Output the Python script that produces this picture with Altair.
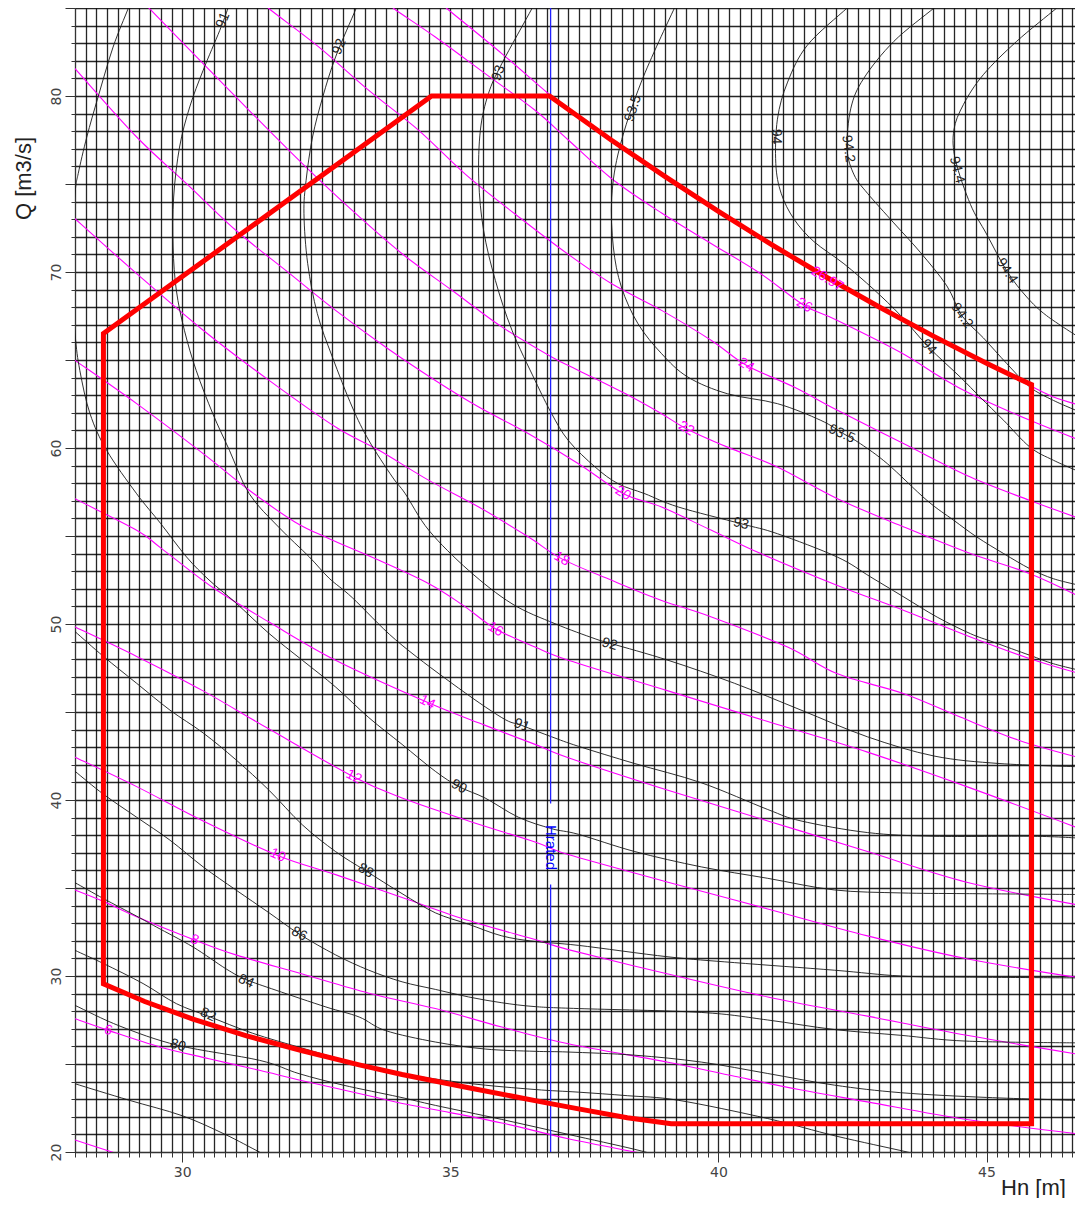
import altair as alt
import pandas as pd

# ---------------- axes / domains ----------------
X_DOMAIN = [28.0, 46.65]
Q_DOMAIN = [20.0, 85.0]
X_GRID = [round(28.0 + 0.2 * i, 1) for i in range(94)]
Q_GRID = list(range(20, 86))
H_RATED = 36.87

# ---------------- efficiency contours (Hn [m], Q [m3/s]) ----------------
ETA_78 = [(27.8, 24.1), (28.0, 23.88), (29.0, 22.95), (30.0, 22.06), (30.8, 21.0), (31.44, 20.0), (31.8, 19.5)]
ETA_80 = [(27.8, 28.6), (28.0, 28.33), (28.84, 27.15), (29.92, 26.06), (31.44, 25.21), (32.18, 24.45), (33.0, 23.8),
          (34.04, 23.13), (34.72, 22.65), (35.96, 21.85), (37.2, 21.0), (38.44, 20.15), (39.1, 19.6)]
ETA_82 = [(27.8, 31.8), (28.0, 31.46), (28.53, 30.71), (29.27, 29.57), (29.89, 28.43), (30.5, 27.7), (31.31, 26.75),
          (32.24, 25.9), (33.17, 25.1), (34.1, 24.45), (35.34, 23.9), (36.58, 23.55), (37.39, 23.4), (38.3, 23.2),
          (39.25, 22.94), (40.92, 21.9), (42.2, 20.9), (43.52, 20.0), (44.2, 19.5)]
ETA_84 = [(27.8, 35.6), (28.0, 35.3), (28.53, 34.4), (29.15, 33.4), (29.52, 32.78), (30.2, 31.65), (30.82, 30.4),
          (31.19, 29.8), (31.75, 29.19), (32.68, 28.24), (33.3, 27.67), (33.79, 26.9), (34.72, 26.25), (35.65, 25.85),
          (36.58, 25.72), (37.2, 25.68), (38.44, 25.5), (39.68, 25.11), (40.92, 24.46), (42.16, 23.8), (43.4, 23.37),
          (45.0, 23.1), (46.74, 22.93)]
ETA_86 = [(27.8, 42.1), (28.0, 41.63), (28.53, 40.33), (29.15, 39.02), (29.77, 37.72), (30.39, 36.2), (31.0, 34.89),
          (31.62, 33.59), (32.18, 32.39), (32.86, 31.2), (33.48, 30.33), (34.1, 29.67), (34.72, 29.24), (35.34, 28.81),
          (35.96, 28.48), (36.58, 28.26), (37.39, 28.15), (39.68, 27.93), (40.92, 27.5), (42.16, 26.96), (43.4, 26.63),
          (44.63, 26.3), (46.74, 26.2)]
ETA_88 = [(27.8, 50.1), (28.0, 49.57), (28.53, 48.16), (29.15, 46.63), (29.77, 45.11), (30.39, 43.81), (31.0, 42.29),
          (31.62, 40.55), (32.24, 38.59), (32.86, 37.07), (33.42, 35.98), (34.1, 34.68), (34.72, 33.59), (35.34, 32.94),
          (35.96, 32.28), (36.58, 31.96), (37.39, 31.74), (39.06, 31.09), (40.3, 30.76), (42.16, 30.33), (43.4, 30.0),
          (44.63, 29.94), (46.74, 29.89)]
ETA_90 = [(29.05, 85.5), (28.99, 84.96), (28.71, 82.78), (28.43, 79.94), (28.22, 77.67), (28.06, 75.59), (28.0, 74.45),
          (27.9, 70.5), (28.0, 66.5), (28.09, 64.41), (28.28, 61.95), (28.59, 59.87), (29.15, 57.4), (29.6, 55.7),
          (30.08, 53.81), (30.5, 52.5), (31.0, 51.2), (31.62, 49.46), (32.24, 47.94), (32.86, 46.42), (33.48, 44.68),
          (34.1, 43.16), (34.72, 41.63), (35.16, 40.76), (35.65, 40.11), (36.27, 39.02), (36.89, 38.37), (37.39, 38.05),
          (38.44, 37.07), (39.68, 36.2), (40.92, 35.55), (42.16, 34.89), (43.4, 34.72), (44.63, 34.68), (46.74, 34.63)]
ETA_91 = [(30.9, 85.5), (30.85, 84.96), (30.7, 83.73), (30.39, 81.46), (30.14, 79.38), (29.95, 77.1), (29.84, 74.26),
          (29.83, 71.42), (29.89, 68.96), (30.04, 66.69), (30.26, 64.41), (30.57, 61.95), (30.88, 59.87), (31.25, 57.4),
          (31.8, 55.5), (32.37, 53.81), (32.74, 52.6), (33.17, 51.5), (33.98, 49.1), (35.03, 46.63), (35.96, 44.68),
          (36.33, 44.24), (36.89, 43.59), (37.39, 43.05), (38.44, 42.07), (39.68, 40.98), (40.92, 39.46), (41.54, 38.81),
          (42.78, 38.15), (44.02, 37.94), (45.87, 37.94), (46.74, 37.83)]
ETA_92 = [(33.3, 85.5), (33.24, 84.96), (32.86, 82.22), (32.62, 79.94), (32.43, 77.67), (32.31, 75.21), (32.27, 73.31),
          (32.34, 70.47), (32.52, 67.63), (32.8, 65.17), (33.17, 62.33), (33.48, 60.43), (33.92, 58.35), (34.16, 57.4),
          (34.6, 55.32), (35.34, 53.05), (36.15, 51.15), (36.95, 50.02), (37.7, 49.16), (38.01, 48.88), (39.06, 47.94),
          (40.3, 46.63), (41.54, 45.11), (42.78, 43.59), (44.02, 42.5), (45.25, 42.07), (46.74, 41.89)]
ETA_93 = [(36.6, 85.5), (36.52, 84.96), (35.96, 81.84), (35.71, 80.13), (35.56, 78.05), (35.53, 75.21), (35.62, 72.37),
          (35.84, 69.52), (36.15, 66.69), (36.58, 63.84), (36.89, 61.95), (37.2, 60.43), (37.7, 58.92), (38.13, 57.97),
          (38.63, 57.4), (39.25, 56.65), (40.42, 55.7), (41.1, 55.13), (42.22, 53.8), (42.84, 52.67), (43.46, 51.53),
          (44.08, 50.39), (44.7, 49.45), (45.13, 48.97), (45.81, 48.22), (46.25, 47.74), (46.75, 47.36)]
ETA_935 = [(39.28, 85.5), (39.18, 85.0), (38.56, 80.79), (38.16, 77.1), (38.01, 74.26), (38.04, 71.42), (38.19, 69.15),
           (38.5, 67.06), (38.94, 65.36), (39.43, 64.03), (40.17, 63.08), (41.1, 62.52), (41.91, 61.57), (42.34, 60.8),
           (42.65, 60.24), (43.15, 59.11), (43.89, 57.02), (44.39, 55.89), (44.82, 54.94), (45.32, 54.0),
           (45.81, 53.14), (46.25, 52.57), (46.75, 52.19)]
ETA_94 = [(42.58, 85.5), (42.4, 85.0), (41.66, 82.89), (41.29, 80.79), (41.1, 78.68), (41.07, 76.16), (41.17, 74.47),
          (41.41, 73.0), (41.78, 71.73), (42.34, 70.47), (42.9, 69.0), (43.4, 67.52), (43.92, 65.73), (44.51, 64.03),
          (44.88, 62.89), (45.32, 61.57), (45.81, 60.05), (46.25, 59.3), (46.75, 58.63)]
ETA_942 = [(44.2, 85.5), (44.02, 85.0), (43.27, 83.1), (42.71, 81.0), (42.47, 79.31), (42.4, 77.0), (42.53, 75.52),
           (42.78, 74.47), (43.27, 72.79), (43.77, 71.1), (44.26, 69.21), (44.54, 67.52), (44.94, 66.26), (45.38, 64.79),
           (45.81, 63.46), (46.25, 62.7), (46.75, 62.04)]
ETA_944 = [(46.5, 85.5), (46.31, 85.0), (45.56, 83.1), (44.94, 81.21), (44.57, 79.52), (44.39, 78.05), (44.42, 76.37),
           (44.7, 73.84), (45.0, 72.16), (45.38, 70.05), (45.75, 68.58), (46.12, 67.52), (46.74, 66.26)]

# ---------------- power contours [MW] ----------------
P_4 = [(27.8, 20.9), (28.0, 20.68), (28.69, 20.0), (29.2, 19.5)]
P_6 = [(27.8, 27.75), (28.0, 27.57), (28.62, 26.91), (29.58, 25.97), (30.5, 25.3), (31.44, 24.64), (32.24, 24.05),
       (33.48, 23.2), (34.04, 22.8), (34.72, 22.4), (35.96, 21.65), (37.2, 20.75), (38.44, 20.0), (39.3, 19.5)]
P_8 = [(27.8, 35.1), (28.0, 34.89), (28.53, 34.24), (29.15, 33.37), (30.23, 32.05), (31.0, 31.2), (32.24, 30.11),
       (33.48, 29.02), (34.72, 28.15), (35.96, 27.1), (37.2, 26.15), (39.06, 25.1), (40.3, 24.3), (41.5, 23.55),
       (42.78, 22.85), (44.63, 21.85), (46.74, 21.02)]
P_10 = [(27.8, 42.7), (28.03, 42.39), (29.15, 40.76), (30.39, 38.81), (31.78, 36.85), (32.86, 35.76), (34.1, 34.46),
        (35.34, 33.15), (36.58, 32.07), (37.2, 31.5), (39.06, 30.11), (40.92, 28.81), (42.78, 27.72), (44.63, 26.63),
        (46.74, 25.54)]
P_12 = [(27.8, 50.1), (28.03, 49.79), (29.15, 48.16), (30.39, 46.2), (31.62, 44.03), (33.2, 41.31), (34.1, 40.11),
        (35.34, 38.81), (36.58, 37.61), (37.2, 36.9), (39.06, 35.33), (40.92, 33.81), (42.78, 32.28), (44.63, 30.98),
        (46.74, 29.89)]
P_14 = [(27.8, 57.5), (28.0, 57.12), (29.15, 55.33), (29.61, 54.3), (30.57, 52.07), (31.62, 50.11), (32.86, 47.94),
        (34.57, 45.55), (35.65, 44.24), (36.58, 43.16), (37.2, 42.4), (39.06, 40.55), (40.92, 38.81), (42.78, 37.07),
        (44.63, 35.33), (46.74, 34.02)]
P_16 = [(27.8, 65.4), (28.0, 64.98), (29.15, 62.52), (30.39, 59.68), (31.25, 57.6), (32.1, 55.8), (32.74, 54.85),
        (33.67, 53.62), (34.6, 52.29), (35.22, 51.1), (35.84, 49.73), (36.58, 48.69), (37.2, 47.94), (39.06, 46.2),
        (40.92, 44.46), (42.78, 42.72), (44.63, 40.76), (46.74, 38.37)]
P_18 = [(27.8, 73.6), (28.0, 73.03), (29.15, 69.91), (30.39, 66.69), (31.62, 63.84), (32.86, 61.19), (33.67, 59.87),
        (34.6, 58.16), (35.53, 56.65), (36.46, 54.94), (37.08, 53.7), (38.01, 52.48), (38.94, 51.34), (39.87, 50.4),
        (41.29, 48.69), (42.22, 47.17), (43.46, 46.04), (44.51, 44.71), (45.6, 43.4), (46.74, 42.4)]
P_20 = [(27.8, 82.2), (28.0, 81.55), (29.15, 77.67), (30.08, 75.02), (31.0, 72.37), (31.93, 70.09), (32.86, 67.82),
        (33.79, 65.74), (34.72, 63.84), (35.53, 62.33), (36.46, 60.81), (37.39, 59.11), (38.22, 57.42), (38.94, 56.65),
        (39.87, 55.32), (40.79, 54.0), (42.22, 52.19), (43.46, 50.77), (44.7, 49.26), (45.81, 48.03), (46.75, 47.17)]
P_22 = [(29.2, 85.6), (29.39, 84.96), (30.39, 81.84), (31.31, 78.99), (32.24, 76.16), (33.17, 73.5), (34.1, 71.04),
        (35.03, 68.96), (35.96, 66.88), (36.89, 65.17), (37.39, 64.41), (38.32, 63.0), (38.94, 61.95), (39.4, 61.1),
        (40.17, 60.05), (41.1, 58.92), (42.22, 57.12), (43.46, 55.51), (44.7, 54.0), (45.81, 52.86), (46.75, 51.53)]
P_24 = [(31.4, 85.6), (31.62, 84.96), (32.55, 82.78), (33.48, 80.32), (34.41, 78.05), (35.3, 75.5), (36.2, 73.31),
        (37.2, 71.0), (38.01, 69.33), (38.94, 67.82), (39.87, 66.11), (40.52, 64.7), (41.41, 63.46), (42.22, 62.14),
        (43.46, 60.24), (44.7, 58.35), (45.81, 57.02), (46.75, 55.98)]
P_26 = [(33.7, 85.6), (33.95, 84.96), (34.72, 83.35), (35.65, 81.27), (36.58, 79.19), (37.2, 77.5), (38.01, 75.3),
        (38.94, 73.35), (39.87, 71.61), (40.79, 69.9), (41.6, 68.1), (42.22, 67.25), (43.4, 65.43), (44.14, 64.03),
        (44.7, 63.08), (45.81, 61.57), (46.75, 60.43)]
P_2697 = [(34.7, 85.6), (34.94, 84.96), (35.96, 82.41), (36.83, 80.13), (37.4, 78.75), (38.0, 77.43), (39.0, 75.36),
          (40.0, 73.37), (41.0, 71.47), (42.0, 69.66), (43.0, 67.94), (44.0, 66.3), (45.0, 64.75), (45.5, 64.0),
          (45.84, 63.5), (46.25, 62.9), (46.75, 62.42)]

# ---------------- operating envelope ----------------
ENVELOPE = [(28.53, 48.0), (28.53, 66.5), (34.65, 80.0), (36.85, 80.0), (38.0, 77.5), (39.0, 75.43),
            (40.0, 73.44), (41.0, 71.54), (42.0, 69.73), (43.0, 68.01), (44.0, 66.37), (45.0, 64.82),
            (45.5, 64.08), (45.84, 63.6), (45.84, 21.61), (39.12, 21.61), (38.3, 21.95), (37.39, 22.45),
            (36.87, 22.75), (35.34, 23.65), (34.1, 24.4), (33.3, 24.95), (32.24, 25.75), (31.2, 26.6), (30.2, 27.55),
            (29.3, 28.55), (28.53, 29.56), (28.53, 48.0)]

BLUE_SEGMENTS = {"low": [(H_RATED, 19.0), (H_RATED, 35.2)], "high": [(H_RATED, 39.8), (H_RATED, 86.0)]}

# ---------------- labels (text, Hn, Q, angle) ----------------
EFF_LABELS = [("91", 30.76, 84.3, 292), ("92", 32.93, 82.8, 293), ("93", 35.9, 81.3, 290), ("93.5", 38.41, 79.3, 288),
              ("94", 41.07, 77.7, 90), ("94.2", 42.42, 77.0, 82), ("94.4", 44.45, 75.8, 76),
              ("94.4", 45.38, 70.06, 57), ("94.2", 44.54, 67.52, 55), ("94", 43.92, 65.73, 48),
              ("93.5", 42.3, 60.8, 24), ("93", 40.42, 55.7, 14), ("92", 37.97, 48.85, 16), ("91", 36.33, 44.24, 21),
              ("90", 35.16, 40.76, 28), ("88", 33.42, 35.98, 30), ("86", 32.18, 32.39, 28), ("84", 31.19, 29.7, 24),
              ("82", 30.48, 27.8, 26), ("80", 29.92, 26.06, 17)]
POW_LABELS = [("6", 28.62, 26.91, 18), ("8", 30.23, 32.05, 22), ("10", 31.78, 36.85, 25), ("12", 33.2, 41.31, 28),
              ("14", 34.57, 45.55, 27), ("16", 35.84, 49.7, 31), ("18", 37.08, 53.7, 30), ("20", 38.22, 57.42, 31),
              ("22", 39.4, 61.1, 31), ("24", 40.52, 64.7, 30), ("26", 41.6, 68.1, 31), ("26.97", 42.03, 69.6, 31)]
RATED_LABEL = [("Hrated", H_RATED, 37.3, 90)]

EFF_LINES = {"78": ETA_78, "80": ETA_80, "82": ETA_82, "84": ETA_84, "86": ETA_86, "88": ETA_88, "90": ETA_90,
             "91": ETA_91, "92": ETA_92, "93": ETA_93, "93.5": ETA_935, "94": ETA_94, "94.2": ETA_942,
             "94.4": ETA_944}
POW_LINES = {"4": P_4, "6": P_6, "8": P_8, "10": P_10, "12": P_12, "14": P_14, "16": P_16, "18": P_18,
             "20": P_20, "22": P_22, "24": P_24, "26": P_26, "26.97": P_2697}


def line_rows(lines):
    out = []
    for name, pts in lines.items():
        for i, (x, q) in enumerate(pts):
            out.append({"line": name, "i": i, "x": x, "q": q})
    return pd.DataFrame(out)


def label_rows(labels):
    return pd.DataFrame([{"t": t, "x": x, "q": q, "a": a} for t, x, q, a in labels])


eff_df = line_rows(EFF_LINES)
pow_df = line_rows(POW_LINES)
env_df = line_rows({"env": ENVELOPE})
blue_df = line_rows(BLUE_SEGMENTS)

x_axis = alt.Axis(
    values=X_GRID, grid=True, gridColor="#000000", gridWidth=1.3, gridOpacity=0.85,
    tickSize={"condition": {"test": "abs(datum.value % 5) < 0.01", "value": 10}, "value": 5},
    tickColor="#333333", tickWidth=1, domainColor="#333333",
    labelExpr="abs(datum.value % 5) < 0.01 ? format(datum.value, 'd') : ''",
    labelFont="DejaVu Sans", labelFontSize=14, labelColor="#444444", labelPadding=3,
    labelOverlap=False, labelFlush=False,
    title="Hn [m]", titleFont="Liberation Sans", titleFontSize=22, titleFontWeight="normal",
    titleColor="#222222", titleX=958, titleY=42, titleAlign="center", titleBaseline="alphabetic",
)
y_axis = alt.Axis(
    values=Q_GRID, grid=True, gridColor="#000000", gridWidth=1.3, gridOpacity=0.85,
    tickSize={"condition": {"test": "datum.value % 5 == 0", "value": 10}, "value": 4},
    tickColor="#333333", tickWidth=1, domainColor="#333333",
    labelExpr="(datum.value % 10 == 0 && datum.value <= 80) ? datum.label : ''",
    labelFont="DejaVu Sans", labelFontSize=14, labelColor="#444444", labelPadding=5,
    labelAngle=270, labelAlign="center", labelBaseline="alphabetic",
    labelOverlap=False, labelFlush=False,
    title="Q [m3/s]", titleFont="Liberation Sans", titleFontSize=22, titleFontWeight="normal",
    titleColor="#222222", titleAngle=270, titleX=-52, titleY=170, titleAlign="center", titleBaseline="middle",
)
xs = alt.Scale(domain=X_DOMAIN, nice=False, zero=False)
ys = alt.Scale(domain=Q_DOMAIN, nice=False, zero=False)
X = alt.X("x:Q", scale=xs, axis=x_axis)
Y = alt.Y("q:Q", scale=ys, axis=y_axis)

pow_layer = alt.Chart(pow_df).mark_line(color="#ff00ff", strokeWidth=1.1, interpolate="cardinal", clip=True).encode(
    x=X, y=Y, detail="line:N", order="i:Q")
eff_layer = alt.Chart(eff_df).mark_line(color="#1a1a1a", strokeWidth=0.9, interpolate="cardinal", clip=True).encode(
    x=X, y=Y, detail="line:N", order="i:Q")
blue_layer = alt.Chart(blue_df).mark_line(color="#2020ff", strokeWidth=1.3, clip=True).encode(
    x=X, y=Y, detail="line:N", order="i:Q")
env_layer = alt.Chart(env_df).mark_line(color="#ff0000", strokeWidth=5, strokeJoin="miter", clip=True).encode(
    x=X, y=Y, detail="line:N", order="i:Q")

eff_text = alt.Chart(label_rows(EFF_LABELS)).mark_text(
    font="Liberation Sans", fontSize=14, color="#222222", align="center", baseline="middle").encode(
    x=X, y=Y, text="t:N", angle=alt.Angle("a:Q", scale=None))
pow_text = alt.Chart(label_rows(POW_LABELS)).mark_text(
    font="Liberation Sans", fontSize=14, color="#ff00ff", align="center", baseline="middle").encode(
    x=X, y=Y, text="t:N", angle=alt.Angle("a:Q", scale=None))
rated_text = alt.Chart(label_rows(RATED_LABEL)).mark_text(
    font="Liberation Sans", fontSize=15, color="#0000ff", align="center", baseline="middle").encode(
    x=X, y=Y, text="t:N", angle=alt.Angle("a:Q", scale=None))

chart = alt.layer(
    pow_layer, eff_layer, blue_layer, env_layer, eff_text, pow_text, rated_text
).properties(
    width=1000, height=1144,
    padding={"left": 67, "top": 0, "right": 0, "bottom": 46},
    autosize=alt.AutoSizeParams(type="none"),
).configure_view(strokeOpacity=0)

chart.save("out.html", embed_options={"renderer": "svg", "actions": False})
